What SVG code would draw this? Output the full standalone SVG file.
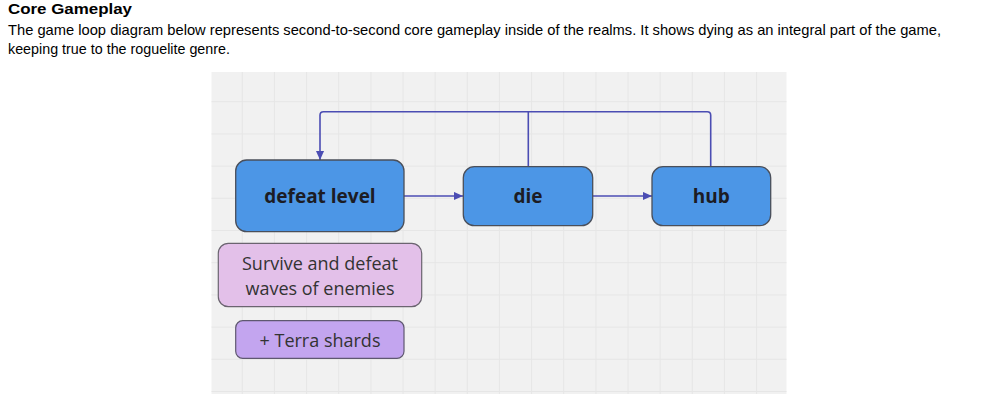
<svg xmlns="http://www.w3.org/2000/svg" width="999" height="401" viewBox="0 0 999 401">
<defs>
<style>
.h{font-family:"Liberation Sans",Arial,sans-serif;font-weight:bold;font-size:15.5px;fill:#000}
.p{font-family:"Liberation Sans",Arial,sans-serif;font-size:14.4px;fill:#000}
.grid{stroke:#e6e6e6;stroke-width:1;fill:none}
.node{fill:#4c96e6;stroke:#4a4f5a;stroke-width:1.3}
.nt{font-family:"Open Sans","Noto Sans",sans-serif;font-weight:bold;font-size:19px;fill:#1c1c24;text-anchor:middle}
.st{font-family:"Open Sans","Noto Sans",sans-serif;font-size:18px;fill:#333;text-anchor:middle}
.conn{stroke:#4b4db3;stroke-width:1.6;fill:none}
</style>
<marker id="a" viewBox="0 0 10 10" refX="10" refY="5" markerWidth="9" markerHeight="9" orient="auto" markerUnits="userSpaceOnUse">
<path d="M0,0.5 L10,5 L0,9.5 z" fill="#4b4db3"/>
</marker>
</defs>
<rect width="999" height="401" fill="#fff"/>
<text class="h" x="8" y="13.5" textLength="124" lengthAdjust="spacingAndGlyphs">Core Gameplay</text>
<text class="p" x="8" y="34.5" textLength="933" lengthAdjust="spacingAndGlyphs">The game loop diagram below represents second-to-second core gameplay inside of the realms. It shows dying as an integral part of the game,</text>
<text class="p" x="8" y="54" textLength="222" lengthAdjust="spacingAndGlyphs">keeping true to the roguelite genre.</text>
<g id="panel">
<rect x="211.5" y="72" width="575" height="322" fill="#f1f1f1"/>
<path class="grid" d="M242.3,72V394M274.4,72V394M306.6,72V394M338.7,72V394M370.9,72V394M403,72V394M435.2,72V394M467.3,72V394M499.4,72V394M531.6,72V394M563.7,72V394M595.9,72V394M628,72V394M660.2,72V394M692.3,72V394M724.4,72V394M756.6,72V394M211.5,101.7H786.5M211.5,133.9H786.5M211.5,166.1H786.5M211.5,198.3H786.5M211.5,230.5H786.5M211.5,262.7H786.5M211.5,294.9H786.5M211.5,327.1H786.5M211.5,359.3H786.5M211.5,391.5H786.5"/>
</g>
<g id="connectors">
<path class="conn" d="M710.7,166.5V115.2Q710.7,111.7 707.2,111.7H323.5Q320,111.7 320,115.2V160" marker-end="url(#a)"/>
<path class="conn" d="M528.3,166.5V111.7"/>
<path class="conn" d="M404,196H463" marker-end="url(#a)"/>
<path class="conn" d="M592.7,196H652" marker-end="url(#a)"/>
</g>
<g id="defeat-level">
<rect class="node" x="235.7" y="160" width="168.3" height="71.7" rx="11"/>
<text class="nt" x="320" y="203">defeat level</text>
</g>
<g id="die">
<rect class="node" x="463.3" y="166.7" width="129.4" height="59" rx="11"/>
<text class="nt" x="528" y="203">die</text>
</g>
<g id="hub">
<rect class="node" x="652" y="166.7" width="118.7" height="59" rx="11"/>
<text class="nt" x="711.3" y="203">hub</text>
</g>
<g id="survive">
<rect x="218.3" y="243.3" width="203.4" height="63.4" rx="10" fill="#e3c0e9" stroke="#6b6470" stroke-width="1.2"/>
<text class="st" x="320" y="270">Survive and defeat</text>
<text class="st" x="320" y="295">waves of enemies</text>
</g>
<g id="terra">
<rect x="235.7" y="320.7" width="168.3" height="37.6" rx="7" fill="#c3a5ef" stroke="#5f5870" stroke-width="1.2"/>
<text class="st" x="320" y="346.5">+ Terra shards</text>
</g>
</svg>
